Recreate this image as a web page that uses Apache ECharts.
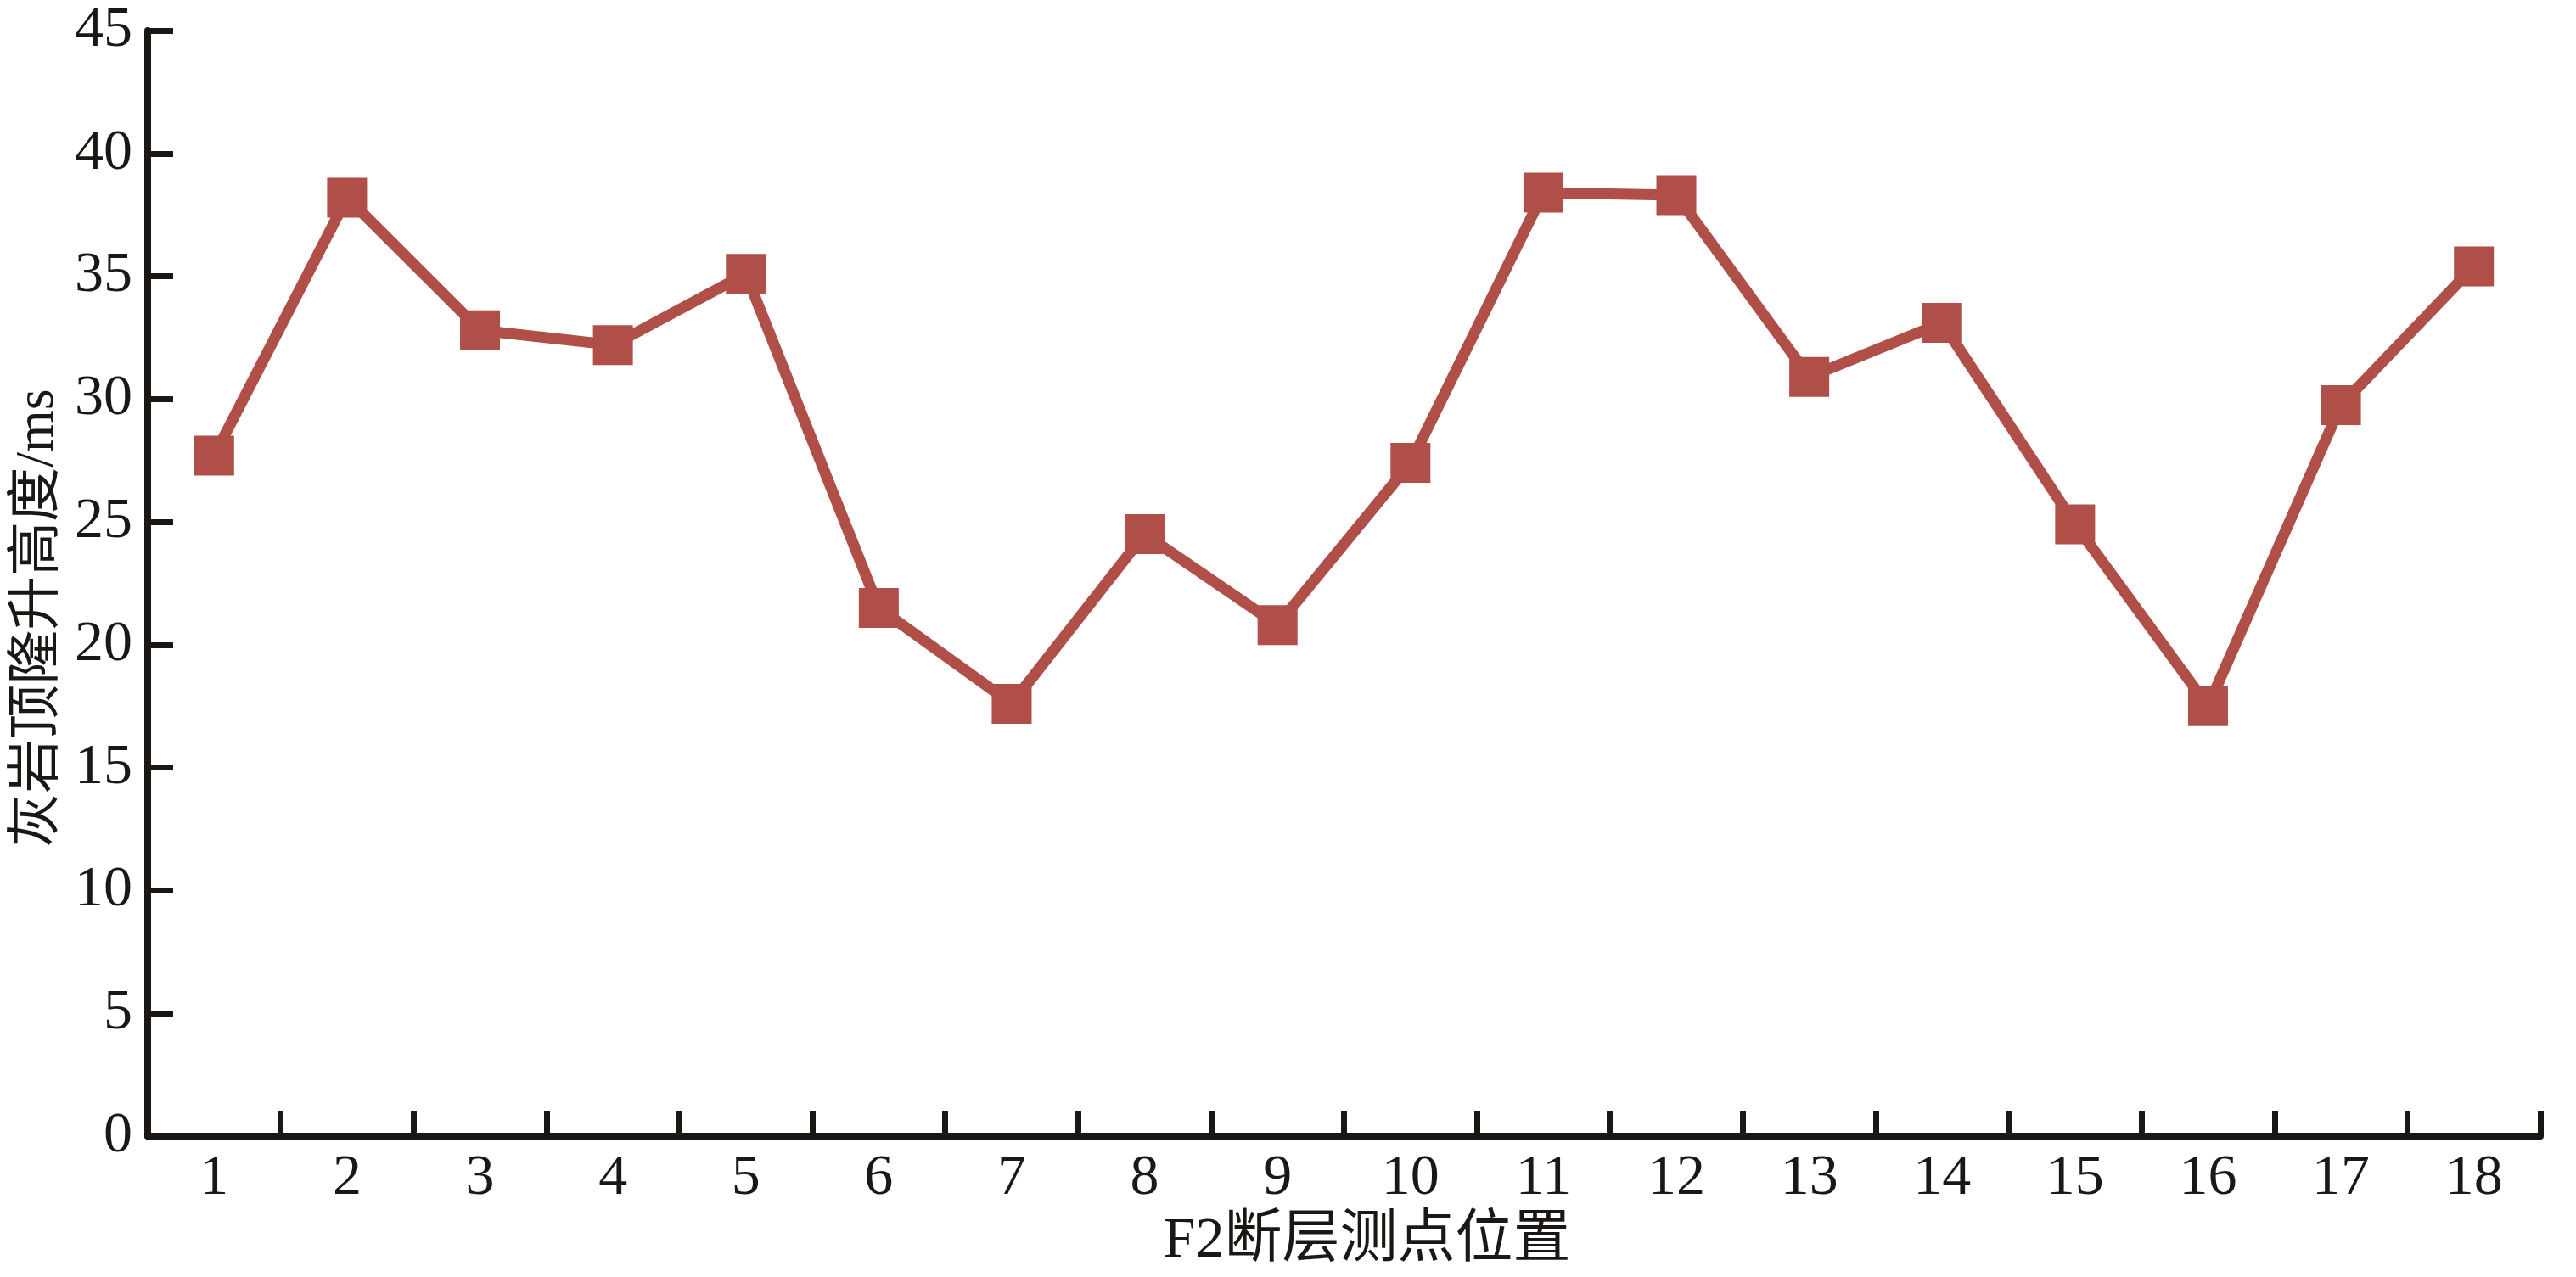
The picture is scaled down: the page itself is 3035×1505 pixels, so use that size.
<!DOCTYPE html>
<html>
<head>
<meta charset="utf-8">
<script src="https://cdn.jsdelivr.net/npm/echarts@6/dist/echarts.min.js"></script>
<style>
html,body{margin:0;padding:0;background:#fff;}
#main{width:3035px;height:1505px;}
</style>
</head>
<body>
<div id="main"></div>
<script>
const categories = ['1','2','3','4','5','6','7','8','9','10','11','12','13','14','15','16','17','18'];
const upliftValues = [27.7, 38.2, 32.8, 32.2, 35.1, 21.5, 17.6, 24.5, 20.8, 27.4, 38.4, 38.3, 30.9, 33.1, 24.9, 17.5, 29.75, 35.4];
const yTicks = [0, 5, 10, 15, 20, 25, 30, 35, 40, 45];
const xTitle = 'F2断层测点位置';
const yTitle = '灰岩顶隆升高度/ms';

const FONT = '"Liberation Serif", "DejaVu Serif", "Noto Sans CJK SC", serif';
const INK = '#1a1714';
const RED = '#B04E48';

const chart = echarts.init(document.getElementById('main'), null, {renderer: 'canvas'});
chart.setOption({
  backgroundColor: '#ffffff',
  animation: false,
  grid: {left: 174, right: 42, top: 36, bottom: 166, containLabel: false, outerBoundsMode: 'none'},
  xAxis: {
    type: 'category',
    data: categories,
    boundaryGap: true,
    name: xTitle,
    nameLocation: 'middle',
    nameGap: 90,
    nameTextStyle: {fontFamily: FONT, fontSize: 68, color: INK, padding: [0, 0, 0, 54]},
    axisLine: {show: true, lineStyle: {color: INK, width: 8}},
    axisTick: {show: true, inside: true, length: 30, alignWithLabel: false, lineStyle: {color: INK, width: 7}},
    axisLabel: {fontFamily: FONT, fontSize: 68, color: INK, margin: 16},
    splitLine: {show: false}
  },
  yAxis: {
    type: 'value',
    min: yTicks[0],
    max: yTicks[yTicks.length - 1],
    interval: yTicks[1] - yTicks[0],
    name: yTitle,
    nameLocation: 'middle',
    nameGap: 90,
    nameRotate: 90,
    nameTextStyle: {fontFamily: FONT, fontSize: 64, color: INK, padding: [0, 82, 0, 0]},
    axisLine: {show: true, lineStyle: {color: INK, width: 8}},
    axisTick: {show: true, inside: true, length: 30, lineStyle: {color: INK, width: 7}},
    axisLabel: {fontFamily: FONT, fontSize: 68, color: INK, margin: 18},
    splitLine: {show: false}
  },
  series: [{
    type: 'line',
    data: upliftValues,
    symbol: 'rect',
    symbolSize: 47,
    itemStyle: {color: RED, borderColor: RED, borderWidth: 0},
    lineStyle: {color: RED, width: 13},
    z: 3
  }]
});
</script>
</body>
</html>
